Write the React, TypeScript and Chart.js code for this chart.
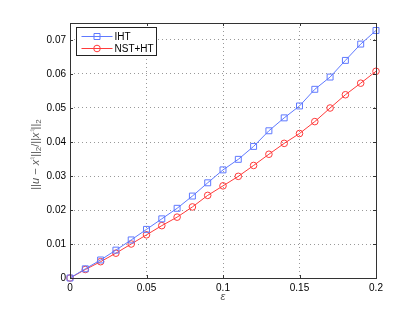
import React, { useEffect, useRef } from "react";
import { Chart, registerables } from "chart.js";

Chart.register(...registerables);

const epsValues = [0, 0.01, 0.02, 0.03, 0.04, 0.05, 0.06, 0.07, 0.08, 0.09, 0.1, 0.11, 0.12, 0.13, 0.14, 0.15, 0.16, 0.17, 0.18, 0.19, 0.2];
const ihtValues = [0, 0.0027, 0.0053, 0.0082, 0.0112, 0.0143, 0.0174, 0.0205, 0.0241, 0.028, 0.0318, 0.0349, 0.0387, 0.0433, 0.0471, 0.0506, 0.0555, 0.0591, 0.064, 0.0688, 0.0728];
const nstValues = [0, 0.0025, 0.0048, 0.0073, 0.01, 0.0127, 0.0154, 0.0179, 0.0209, 0.0243, 0.0271, 0.0299, 0.0331, 0.0364, 0.0396, 0.0425, 0.046, 0.05, 0.0539, 0.0573, 0.0608];
const xTicks = [0, 0.05, 0.1, 0.15, 0.2];
const xTickLabels = ["0", "0.05", "0.1", "0.15", "0.2"];
const yTicks = [0, 0.01, 0.02, 0.03, 0.04, 0.05, 0.06, 0.07];
const yTickLabels = ["0", "0.01", "0.02", "0.03", "0.04", "0.05", "0.06", "0.07"];
const seriesNames = ["IHT", "NST+HT"];
const xTitle = "ε";

const BLUE = "#5f79ff";
const RED = "#ff3a3a";
const FONT = "'Liberation Sans', Arial, sans-serif";

const framePlugin = {
  id: "frame",
  afterDatasetsDraw(chart: any) {
    const { ctx, chartArea: a, scales } = chart;
    const xs = scales.x;
    const ys = scales.y;
    ctx.save();
    // box
    ctx.strokeStyle = "#333";
    ctx.lineWidth = 1;
    ctx.setLineDash([]);
    ctx.strokeRect(Math.round(a.left) + 0.5, Math.round(a.top) + 0.5, Math.round(a.right - a.left), Math.round(a.bottom - a.top));
    // inward ticks
    const tl = 3;
    ctx.beginPath();
    xTicks.forEach((v) => {
      const px = Math.round(xs.getPixelForValue(v)) + 0.5;
      ctx.moveTo(px, a.bottom);
      ctx.lineTo(px, a.bottom - tl);
      ctx.moveTo(px, a.top);
      ctx.lineTo(px, a.top + tl);
    });
    yTicks.forEach((v) => {
      const py = Math.round(ys.getPixelForValue(v)) + 0.5;
      ctx.moveTo(a.left, py);
      ctx.lineTo(a.left + tl, py);
      ctx.moveTo(a.right, py);
      ctx.lineTo(a.right - tl, py);
    });
    ctx.stroke();
  },
  afterDraw(chart: any) {
    const { ctx, chartArea: a } = chart;
    ctx.save();
    // legend
    const lx = Math.round(a.left) + 6.5;
    const ly = Math.round(a.top) + 4.5;
    const lw = 80;
    const lh = 28;
    ctx.fillStyle = "#fff";
    ctx.fillRect(lx, ly, lw, lh);
    ctx.strokeStyle = "#222";
    ctx.lineWidth = 1;
    ctx.strokeRect(lx, ly, lw, lh);
    const colors = [BLUE, RED];
    const rows = [ly + 8.5, ly + 20.5];
    ctx.font = `10px ${FONT}`;
    ctx.textBaseline = "middle";
    ctx.textAlign = "left";
    rows.forEach((ry, i) => {
      ctx.strokeStyle = colors[i];
      ctx.lineWidth = 1;
      ctx.beginPath();
      ctx.moveTo(lx + 5, Math.round(ry) + 0.5);
      ctx.lineTo(lx + 36, Math.round(ry) + 0.5);
      ctx.stroke();
      const mx = lx + 20.5;
      const my = Math.round(ry) + 0.5;
      ctx.beginPath();
      if (i === 0) {
        ctx.rect(mx - 3, my - 3, 6, 6);
      } else {
        ctx.arc(mx, my, 3.3, 0, Math.PI * 2);
      }
      ctx.stroke();
      ctx.fillStyle = "#000";
      ctx.fillText(seriesNames[i], lx + 38, ry + 1);
    });

    // x title
    ctx.fillStyle = "#555";
    ctx.font = `italic 11px ${FONT}`;
    ctx.textAlign = "center";
    ctx.textBaseline = "middle";
    ctx.fillText(xTitle, (a.left + a.right) / 2, 297);

    // y title with sub/superscripts
    const segs = [
      { t: "||", s: 0 },
      { t: "u", s: 0, i: true },
      { t: " − ", s: 0 },
      { t: "x", s: 0, i: true },
      { t: "♮", s: 1 },
      { t: "||", s: 0 },
      { t: "2", s: -1 },
      { t: "/||", s: 0 },
      { t: "x", s: 0, i: true },
      { t: "♮", s: 1 },
      { t: "||", s: 0 },
      { t: "2", s: -1 },
    ];
    const fontFor = (sg: any) => `${sg.i ? "italic " : ""}${sg.s ? 8 : 11}px ${FONT}`;
    let total = 0;
    segs.forEach((sg) => {
      ctx.font = fontFor(sg);
      total += ctx.measureText(sg.t).width;
    });
    ctx.fillStyle = "#555";
    ctx.translate(39, (a.top + a.bottom) / 2 + 4);
    ctx.rotate(-Math.PI / 2);
    ctx.textAlign = "left";
    ctx.textBaseline = "alphabetic";
    let cx = -total / 2;
    segs.forEach((sg) => {
      ctx.font = fontFor(sg);
      const dy = sg.s === 1 ? -4 : sg.s === -1 ? 2 : 0;
      ctx.fillText(sg.t, cx, dy);
      cx += ctx.measureText(sg.t).width;
    });
    ctx.restore();
  },
};

export default function App() {
  const ref = useRef<HTMLCanvasElement>(null);
  useEffect(() => {
    if (!ref.current) return;
    const chart = new Chart(ref.current, {
      type: "line",
      data: {
        datasets: [
          {
            label: seriesNames[0],
            data: epsValues.map((x, i) => ({ x, y: ihtValues[i] })),
            borderColor: BLUE,
            backgroundColor: "rgba(0,0,0,0)",
            borderWidth: 1,
            pointStyle: "rect",
            pointRadius: 4.2,
            pointBorderWidth: 1,
            pointBorderColor: BLUE,
            pointBackgroundColor: "rgba(0,0,0,0)",
            tension: 0,
            clip: false,
          },
          {
            label: seriesNames[1],
            data: epsValues.map((x, i) => ({ x, y: nstValues[i] })),
            borderColor: RED,
            backgroundColor: "rgba(0,0,0,0)",
            borderWidth: 1,
            pointStyle: "circle",
            pointRadius: 3.3,
            pointBorderWidth: 1,
            pointBorderColor: RED,
            pointBackgroundColor: "rgba(0,0,0,0)",
            tension: 0,
            clip: false,
          },
        ],
      },
      options: {
        animation: false,
        responsive: false,
        devicePixelRatio: 1,
        layout: { padding: { left: 0, right: 39, top: 23, bottom: 0 } },
        plugins: { legend: { display: false }, tooltip: { enabled: false } },
        scales: {
          x: {
            type: "linear",
            min: 0,
            max: 0.2,
            afterBuildTicks: (s: any) => {
              s.ticks = xTicks.map((v) => ({ value: v }));
            },
            afterFit: (s: any) => {
              s.height = 35;
            },
            ticks: {
              callback: (v: any) => xTickLabels[xTicks.indexOf(Number(v))] ?? "",
              font: { family: FONT, size: 10 },
              color: "#000",
              padding: 4,
              maxRotation: 0,
              autoSkip: false,
            },
            grid: { color: "#999", lineWidth: 1, drawTicks: false },
            border: { display: false, dash: [1, 3] },
          },
          y: {
            type: "linear",
            min: 0,
            max: 0.075,
            afterBuildTicks: (s: any) => {
              s.ticks = yTicks.map((v) => ({ value: v }));
            },
            afterFit: (s: any) => {
              s.width = 70;
            },
            ticks: {
              callback: (v: any) => yTickLabels[yTicks.indexOf(Number(v))] ?? "",
              font: { family: FONT, size: 10 },
              color: "#000",
              padding: 4,
              autoSkip: false,
            },
            grid: { color: "#999", lineWidth: 1, drawTicks: false },
            border: { display: false, dash: [1, 3] },
          },
        },
      },
      plugins: [framePlugin],
    });
    return () => chart.destroy();
  }, []);
  return (
    <div style={{ position: "fixed", left: 0, top: 0, width: 415, height: 313, background: "#fff" }}>
      <canvas ref={ref} width={415} height={313} style={{ width: 415, height: 313, display: "block" }} />
    </div>
  );
}
